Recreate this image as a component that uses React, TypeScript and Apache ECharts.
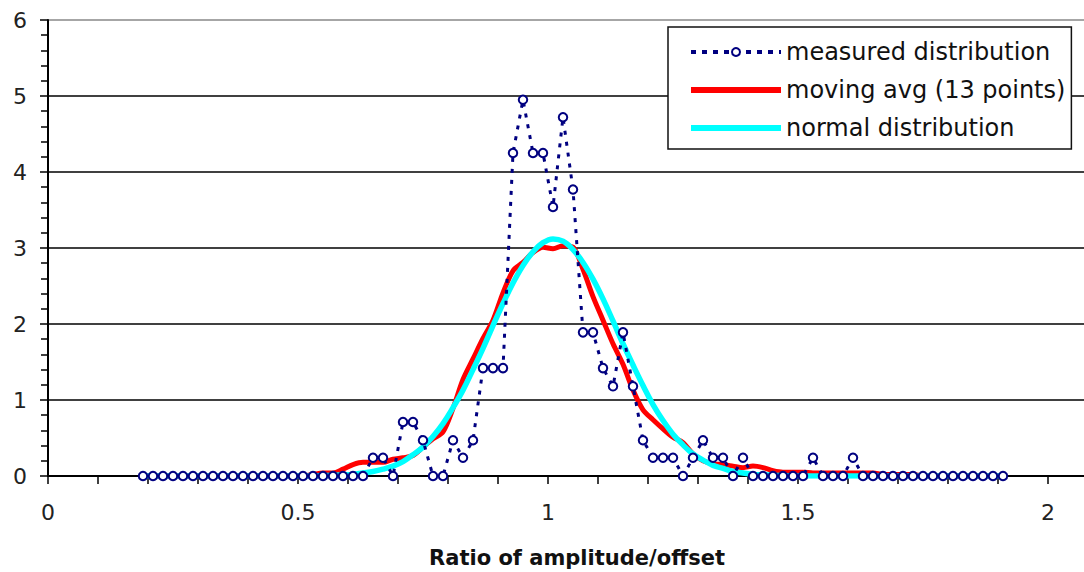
import React, { useEffect, useRef } from 'react';
import * as echarts from 'echarts';

const FONT = '"DejaVu Sans", "Liberation Sans", Arial, sans-serif';

const xs = [
  0.19, 0.21, 0.23, 0.25, 0.27, 0.29, 0.31, 0.33, 0.35, 0.37,
  0.39, 0.41, 0.43, 0.45, 0.47, 0.49, 0.51, 0.53, 0.55, 0.57,
  0.59, 0.61, 0.63, 0.65, 0.67, 0.69, 0.71, 0.73, 0.75, 0.77,
  0.79, 0.81, 0.83, 0.85, 0.87, 0.89, 0.91, 0.93, 0.95, 0.97,
  0.99, 1.01, 1.03, 1.05, 1.07, 1.09, 1.11, 1.13, 1.15, 1.17,
  1.19, 1.21, 1.23, 1.25, 1.27, 1.29, 1.31, 1.33, 1.35, 1.37,
  1.39, 1.41, 1.43, 1.45, 1.47, 1.49, 1.51, 1.53, 1.55, 1.57,
  1.59, 1.61, 1.63, 1.65, 1.67, 1.69, 1.71, 1.73, 1.75, 1.77,
  1.79, 1.81, 1.83, 1.85, 1.87, 1.89, 1.91,
];

const measured = [
  0, 0, 0, 0, 0, 0, 0, 0, 0, 0,
  0, 0, 0, 0, 0, 0, 0, 0, 0, 0,
  0, 0, 0,
  0.24, 0.24, 0, 0.71, 0.71, 0.47, 0, 0, 0.47, 0.24,
  0.47, 1.42, 1.42, 1.42, 4.25, 4.95, 4.25, 4.25, 3.54, 4.72,
  3.77, 1.89, 1.89, 1.42, 1.18, 1.89, 1.18, 0.47, 0.24, 0.24,
  0.24, 0, 0.24, 0.47, 0.24, 0.24, 0, 0.24,
  0, 0, 0, 0, 0, 0,
  0.24, 0, 0, 0, 0.24,
  0, 0, 0, 0, 0, 0, 0, 0, 0, 0, 0, 0, 0, 0, 0,
];

const movingAvg = [
  0, 0, 0, 0, 0, 0, 0, 0, 0, 0,
  0, 0, 0, 0, 0, 0, 0,
  0.02, 0.04, 0.04, 0.09, 0.15, 0.18, 0.18, 0.18, 0.22, 0.24,
  0.27, 0.38, 0.49, 0.58, 0.89, 1.27, 1.54, 1.81, 2.05, 2.41,
  2.70, 2.81, 2.94, 3.01, 2.99, 3.03, 3.01, 2.72, 2.36, 2.05,
  1.74, 1.47, 1.13, 0.87, 0.74, 0.62, 0.51, 0.44, 0.29, 0.20,
  0.16, 0.15, 0.13, 0.11, 0.13, 0.11, 0.07, 0.05, 0.05, 0.05,
  0.04, 0.04, 0.04, 0.04, 0.04, 0.04, 0.04, 0.02, 0.02, 0.02,
  0.02, 0, 0, 0, 0, 0, 0, 0, 0, 0,
];

const normalDist = [
  0, 0, 0, 0, 0, 0, 0, 0, 0, 0,
  0, 0, 0, 0, 0, 0, 0, 0,
  0.005, 0.008, 0.014, 0.02, 0.04, 0.06, 0.09, 0.13, 0.19, 0.28,
  0.38, 0.52, 0.69, 0.90, 1.13, 1.40, 1.68, 1.98, 2.27, 2.54,
  2.77, 2.95, 3.07, 3.12, 3.09, 2.98, 2.81, 2.59, 2.33, 2.04,
  1.74, 1.46, 1.19, 0.94, 0.73, 0.55, 0.41, 0.29, 0.21, 0.14,
  0.10, 0.06, 0.04, 0.02, 0.015, 0.009, 0.005,
  0, 0, 0, 0, 0, 0, 0, 0, 0, 0, 0,
  0, 0, 0, 0, 0, 0, 0, 0, 0, 0, 0,
];

const seriesNames = ['measured distribution', 'moving avg (13 points)', 'normal distribution'];
const xTitle = 'Ratio of amplitude/offset';

export default function App() {
  const ref = useRef<HTMLDivElement>(null);

  useEffect(() => {
    if (!ref.current) return;
    const chart = echarts.init(ref.current, undefined, { renderer: 'svg' });
    const pairs = (ys: number[]) => xs.map((x, i) => [x, ys[i]]);

    chart.setOption({
      animation: false,
      backgroundColor: '#fff',
      grid: {
        left: 48,
        width: 1250,
        top: 20,
        bottom: 96,
        containLabel: false,
        outerBoundsMode: 'none',
      },
      legend: {
        orient: 'vertical',
        left: 668,
        top: 27,
        data: [
          { name: seriesNames[0], lineStyle: { width: 4, type: [5, 6] } },
          { name: seriesNames[1], itemStyle: { opacity: 0 }, lineStyle: { width: 6 } },
          { name: seriesNames[2], itemStyle: { opacity: 0 }, lineStyle: { width: 6 } },
        ],
        itemWidth: 90,
        itemHeight: 10,
        itemGap: 14,
        backgroundColor: '#fff',
        borderColor: '#111',
        borderWidth: 1.5,
        borderRadius: 0,
        padding: [13, 6, 9, 20],
        textStyle: { fontSize: 24, fontFamily: FONT, color: '#111' },
      },
      xAxis: {
        type: 'value',
        min: 0,
        max: 2.5,
        interval: 0.5,
        axisLine: { show: true, onZero: false, lineStyle: { color: '#000', width: 2 } },
        axisTick: { show: true, length: 8, lineStyle: { color: '#000', width: 1.5 } },
        minorTick: { show: true, splitNumber: 5, length: 8, lineStyle: { color: '#000', width: 1.5 } },
        splitLine: { show: false },
        axisLabel: {
          showMaxLabel: false,
          fontSize: 22,
          margin: 25,
          color: '#222',
          fontFamily: FONT,
        },
      },
      yAxis: {
        type: 'value',
        min: 0,
        max: 6,
        interval: 1,
        axisLine: { show: true, lineStyle: { color: '#000', width: 2 } },
        axisTick: { show: true, length: 8, lineStyle: { color: '#000', width: 1.5 } },
        minorTick: { show: true, splitNumber: 5, length: 7, lineStyle: { color: '#000', width: 1.5 } },
        splitLine: {
          show: true,
          lineStyle: { color: ['#000', '#000', '#000', '#000', '#000', '#000', '#888'], width: 1.5 },
        },
        axisLabel: { fontSize: 22, margin: 21, color: '#222', fontFamily: FONT },
      },
      graphic: [
        {
          type: 'text',
          x: 577,
          y: 558,
          style: {
            text: xTitle,
            fontSize: 21,
            fontWeight: 'bold',
            fontFamily: FONT,
            fill: '#111',
            align: 'center',
            verticalAlign: 'middle',
          },
        },
      ],
      series: [
        {
          name: seriesNames[1],
          type: 'line',
          data: pairs(movingAvg),
          symbol: 'none',
          smooth: 0.3,
          lineStyle: { color: '#ff0000', width: 5 },
          itemStyle: { color: '#ff0000' },
          z: 2,
        },
        {
          name: seriesNames[2],
          type: 'line',
          data: pairs(normalDist),
          symbol: 'none',
          smooth: 0.4,
          lineStyle: { color: '#00ffff', width: 5.5 },
          itemStyle: { color: '#00ffff' },
          z: 3,
        },
        {
          name: seriesNames[0],
          type: 'line',
          data: pairs(measured),
          symbol: 'emptyCircle',
          symbolSize: 8.5,
          lineStyle: { color: '#000080', width: 3, type: [4, 7] },
          itemStyle: { color: '#000080', borderWidth: 2.5 },
          z: 4,
        },
      ],
    });

    return () => chart.dispose();
  }, []);

  return (
    <div
      ref={ref}
      style={{ position: 'fixed', left: 0, top: 0, width: 1084, height: 572, background: '#fff' }}
    />
  );
}
